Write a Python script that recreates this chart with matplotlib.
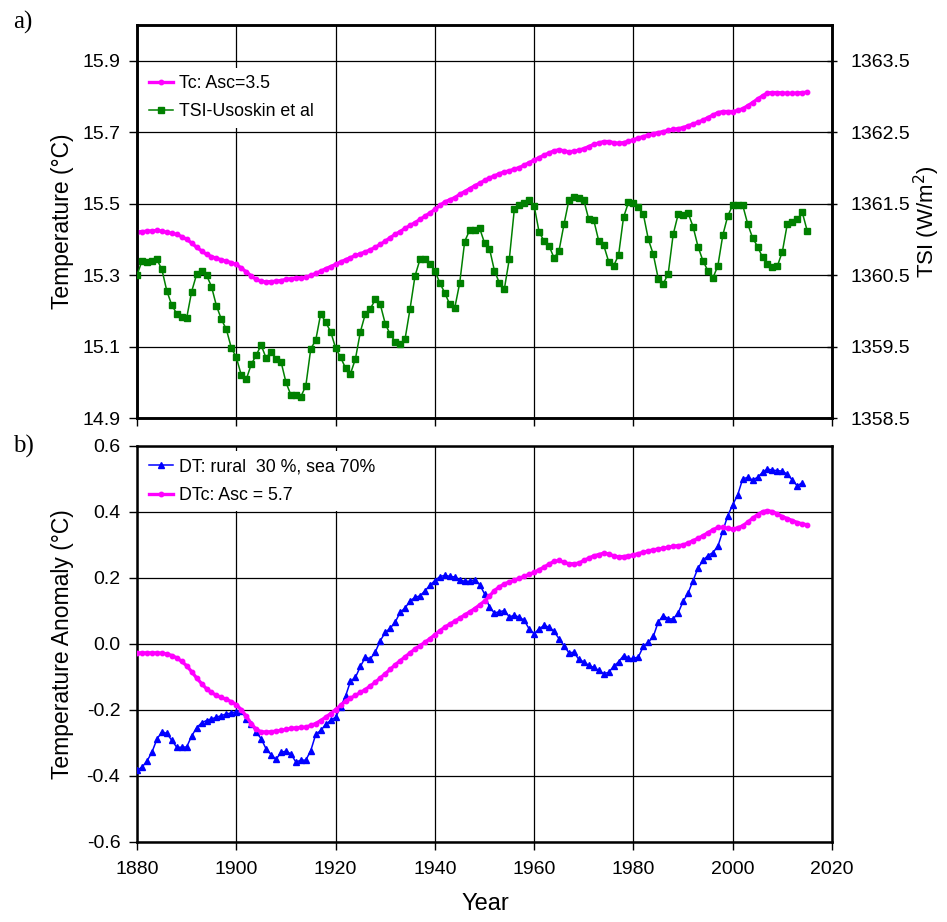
import numpy as np
import matplotlib
matplotlib.use("Agg")
import matplotlib.pyplot as plt
from matplotlib.ticker import FormatStrFormatter, MultipleLocator

plt.rcParams["font.family"] = ["Liberation Sans", "DejaVu Sans"]
plt.rcParams["axes.unicode_minus"] = False

# ---------------------------------------------------------------- data
years = np.arange(1880, 2016)
years_dt = np.arange(1880, 2015)

# a) modelled temperature Tc (deg C), Asc = 3.5
tc = [15.421, 15.422, 15.423, 15.424, 15.425, 15.423, 15.420, 15.417, 15.414, 15.408,
      15.400, 15.390, 15.378, 15.368, 15.358, 15.352, 15.347, 15.343, 15.339, 15.335,
      15.330, 15.320, 15.309, 15.298, 15.288, 15.283, 15.281, 15.282, 15.283, 15.285,
      15.288, 15.290, 15.292, 15.293, 15.294, 15.299, 15.305, 15.311, 15.318, 15.324,
      15.330, 15.337, 15.343, 15.349, 15.355, 15.360, 15.365, 15.371, 15.378, 15.386,
      15.395, 15.405, 15.414, 15.422, 15.431, 15.439, 15.447, 15.456, 15.465, 15.474,
      15.484, 15.495, 15.505, 15.511, 15.517, 15.526, 15.534, 15.542, 15.550, 15.557,
      15.565, 15.572, 15.578, 15.584, 15.589, 15.592, 15.597, 15.601, 15.608, 15.615,
      15.622, 15.629, 15.636, 15.642, 15.648, 15.651, 15.648, 15.645, 15.647, 15.650,
      15.654, 15.660, 15.666, 15.670, 15.674, 15.674, 15.671, 15.669, 15.671, 15.675,
      15.679, 15.684, 15.688, 15.692, 15.696, 15.699, 15.702, 15.705, 15.708, 15.710,
      15.713, 15.718, 15.723, 15.728, 15.734, 15.741, 15.748, 15.755, 15.758, 15.758,
      15.758, 15.761, 15.766, 15.774, 15.783, 15.793, 15.802, 15.810, 15.811, 15.811,
      15.810, 15.809, 15.809, 15.810, 15.811, 15.812]

# a) TSI, Usoskin et al (W/m2)
tsi = [1360.50, 1360.70, 1360.68, 1360.70, 1360.72, 1360.58, 1360.28, 1360.08, 1359.96, 1359.91,
       1359.90, 1360.27, 1360.51, 1360.56, 1360.50, 1360.34, 1360.07, 1359.88, 1359.74, 1359.48,
       1359.35, 1359.10, 1359.04, 1359.25, 1359.38, 1359.52, 1359.34, 1359.43, 1359.33, 1359.29,
       1359.00, 1358.82, 1358.82, 1358.80, 1358.95, 1359.47, 1359.59, 1359.96, 1359.84, 1359.71,
       1359.48, 1359.35, 1359.20, 1359.12, 1359.33, 1359.71, 1359.96, 1360.03, 1360.16, 1360.09,
       1359.82, 1359.67, 1359.57, 1359.53, 1359.61, 1360.03, 1360.49, 1360.72, 1360.73, 1360.66,
       1360.56, 1360.39, 1360.25, 1360.09, 1360.04, 1360.39, 1360.97, 1361.13, 1361.13, 1361.16,
       1360.95, 1360.87, 1360.56, 1360.39, 1360.31, 1360.73, 1361.42, 1361.48, 1361.51, 1361.55,
       1361.47, 1361.10, 1360.98, 1360.91, 1360.74, 1360.84, 1361.21, 1361.55, 1361.60, 1361.58,
       1361.55, 1361.28, 1361.27, 1360.98, 1360.92, 1360.69, 1360.63, 1360.78, 1361.31, 1361.52,
       1361.51, 1361.46, 1361.35, 1361.00, 1360.79, 1360.45, 1360.38, 1360.52, 1361.07, 1361.35,
       1361.34, 1361.37, 1361.18, 1360.90, 1360.70, 1360.56, 1360.46, 1360.63, 1361.06, 1361.33,
       1361.48, 1361.48, 1361.48, 1361.22, 1361.02, 1360.90, 1360.75, 1360.66, 1360.61, 1360.63,
       1360.83, 1361.22, 1361.24, 1361.28, 1361.38, 1361.12]

# b) observed anomaly DT (rural 30 %, sea 70 %)
dt = [-0.383, -0.373, -0.355, -0.328, -0.289, -0.266, -0.271, -0.292, -0.313, -0.313,
      -0.312, -0.279, -0.254, -0.239, -0.232, -0.227, -0.222, -0.217, -0.212, -0.209,
      -0.205, -0.202, -0.226, -0.241, -0.267, -0.287, -0.318, -0.335, -0.350, -0.328,
      -0.325, -0.333, -0.358, -0.352, -0.352, -0.323, -0.274, -0.262, -0.244, -0.231,
      -0.222, -0.191, -0.158, -0.113, -0.101, -0.068, -0.040, -0.045, -0.024, 0.010,
      0.035, 0.048, 0.066, 0.096, 0.109, 0.131, 0.141, 0.146, 0.161, 0.178,
      0.192, 0.204, 0.208, 0.205, 0.203, 0.194, 0.190, 0.190, 0.195, 0.180,
      0.152, 0.111, 0.094, 0.098, 0.101, 0.082, 0.087, 0.081, 0.072, 0.045,
      0.031, 0.046, 0.056, 0.051, 0.038, 0.016, -0.005, -0.027, -0.025, -0.047,
      -0.054, -0.065, -0.071, -0.080, -0.090, -0.086, -0.068, -0.054, -0.035, -0.044,
      -0.044, -0.039, -0.007, 0.005, 0.023, 0.067, 0.086, 0.076, 0.076, 0.094,
      0.129, 0.154, 0.192, 0.230, 0.253, 0.268, 0.277, 0.296, 0.343, 0.389,
      0.422, 0.452, 0.500, 0.505, 0.497, 0.505, 0.520, 0.530, 0.527, 0.525,
      0.524, 0.514, 0.497, 0.479, 0.489]

# b) modelled anomaly DTc, Asc = 5.7
dtc = [-0.027, -0.027, -0.027, -0.027, -0.027, -0.028, -0.030, -0.035, -0.042, -0.053,
       -0.066, -0.084, -0.103, -0.120, -0.136, -0.147, -0.156, -0.162, -0.168, -0.175,
       -0.184, -0.199, -0.219, -0.241, -0.259, -0.266, -0.267, -0.266, -0.264, -0.262,
       -0.259, -0.256, -0.254, -0.253, -0.252, -0.247, -0.241, -0.232, -0.222, -0.211,
       -0.199, -0.186, -0.173, -0.164, -0.156, -0.147, -0.138, -0.127, -0.116, -0.103,
       -0.090, -0.077, -0.063, -0.051, -0.039, -0.027, -0.015, -0.005, 0.005, 0.016,
       0.028, 0.040, 0.051, 0.060, 0.069, 0.078, 0.088, 0.097, 0.107, 0.118,
       0.130, 0.145, 0.162, 0.173, 0.182, 0.188, 0.193, 0.199, 0.205, 0.211,
       0.217, 0.225, 0.233, 0.242, 0.250, 0.253, 0.247, 0.243, 0.243, 0.245,
       0.253, 0.260, 0.267, 0.271, 0.275, 0.273, 0.267, 0.264, 0.265, 0.267,
       0.270, 0.274, 0.278, 0.282, 0.285, 0.288, 0.290, 0.293, 0.296, 0.298,
       0.300, 0.306, 0.313, 0.320, 0.328, 0.337, 0.346, 0.353, 0.353, 0.350,
       0.348, 0.352, 0.358, 0.369, 0.381, 0.392, 0.401, 0.404, 0.401, 0.394,
       0.386, 0.380, 0.374, 0.368, 0.364, 0.361]

assert len(tc) == len(years) and len(tsi) == len(years) and len(dtc) == len(years)
assert len(dt) == len(years_dt)

MAG, GRN, BLU = "#ff00ff", "#008000", "#0000ff"
FS = 14      # tick labels
LFS = 12.8   # legend
AFS = 16.5   # axis labels

fig = plt.figure(figsize=(9.47, 9.22), dpi=100)
ax1 = fig.add_axes([0.1447, 0.5466, 0.7339, 0.4262])
ax2 = fig.add_axes([0.1447, 0.0868, 0.7339, 0.4295])


def style(ax):
    ax.set_xlim(1880, 2020)
    ax.xaxis.set_major_locator(MultipleLocator(20))
    ax.grid(True, color="black", lw=0.9)
    ax.set_axisbelow(True)
    for s in ax.spines.values():
        s.set_linewidth(1.8)
    ax.tick_params(axis="both", direction="out", length=6, width=1,
                   labelsize=FS, colors="black")
    ax.tick_params(axis="y", pad=6)
    ax.tick_params(axis="x", pad=8)


def clean_legend(leg):
    fr = leg.get_frame()
    fr.set_edgecolor("none")
    fr.set_facecolor("white")
    fr.set_alpha(1)


# ------------------------------------------------- a) Tc and TSI
style(ax1)
ax1.set_ylim(14.9, 16.0)
ax1.set_yticks(np.arange(14.9, 15.95, 0.2))
ax1.yaxis.set_major_formatter(FormatStrFormatter("%.1f"))
ax1.tick_params(axis="x", labelbottom=False)
ax1.set_ylabel("Temperature (°C)", fontsize=AFS)
ax1.yaxis.set_label_coords(-0.0906, 0.5)
l1, = ax1.plot(years, tc, color=MAG, lw=2.4, marker="o", ms=3.2,
               label="Tc: Asc=3.5", zorder=3)

ax1r = ax1.twinx()
ax1r.set_ylim(1358.5, 1364.0)
ax1r.set_yticks(np.arange(1358.5, 1363.6, 1.0))
ax1r.yaxis.set_major_formatter(FormatStrFormatter("%.1f"))
ax1r.tick_params(axis="y", direction="inout", length=7, width=1, labelsize=FS, pad=10)
for s in ax1r.spines.values():
    s.set_linewidth(1.8)
ax1r.set_ylabel("TSI (W/m$^2$)", fontsize=16)
ax1r.yaxis.set_label_coords(1.115, 0.5)
l2, = ax1r.plot(years, tsi, color=GRN, lw=1.1, marker="s", ms=4.2,
                label="TSI-Usoskin et al", zorder=3)
leg = ax1r.legend(handles=[l1, l2], loc="upper left", bbox_to_anchor=(0.0, 0.905),
                  frameon=True, fontsize=LFS, handlelength=1.3, handletextpad=0.35,
                  borderaxespad=0.3, labelspacing=0.65, fancybox=False)
clean_legend(leg)

# ------------------------------------------------- b) DT and DTc
style(ax2)
ax2.set_ylim(-0.6, 0.6)
ax2.set_yticks(np.arange(-0.6, 0.61, 0.2))
ax2.yaxis.set_major_formatter(FormatStrFormatter("%.1f"))
ax2.set_ylabel("Temperature Anomaly (°C)", fontsize=AFS)
ax2.yaxis.set_label_coords(-0.0906, 0.5)
ax2.set_xlabel("Year", fontsize=17)
ax2.xaxis.set_label_coords(0.5007, -0.128)
b1, = ax2.plot(years_dt, dt, color=BLU, lw=1.1, marker="^", ms=4.5,
               label="DT: rural  30 %, sea 70%", zorder=3)
b2, = ax2.plot(years, dtc, color=MAG, lw=2.4, marker="o", ms=3.2,
               label="DTc: Asc = 5.7", zorder=3)
leg2 = ax2.legend(handles=[b1, b2], loc="upper left", frameon=True, fontsize=LFS,
                  handlelength=1.3, handletextpad=0.35, borderaxespad=0.3,
                  labelspacing=0.65, fancybox=False)
clean_legend(leg2)

fig.text(0.014, 0.976, "a)", family="Liberation Serif", fontsize=18, va="center")
fig.text(0.014, 0.516, "b)", family="Liberation Serif", fontsize=18, va="center")

fig.savefig("out.png", dpi=100)
